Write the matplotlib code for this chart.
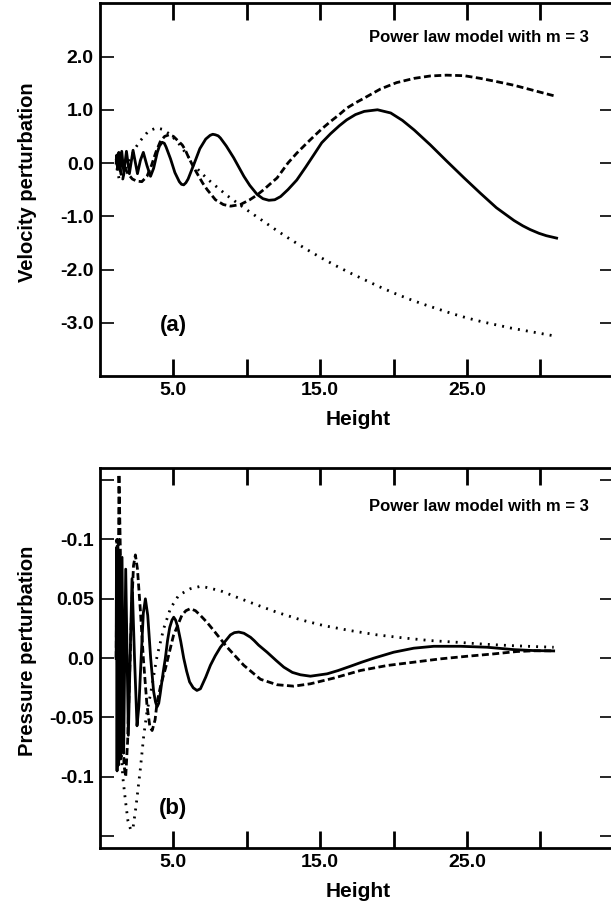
import numpy as np
import matplotlib.pyplot as plt

plt.rcParams['font.family'] = ['Liberation Sans', 'DejaVu Sans']
plt.rcParams['font.weight'] = 'bold'

# ---- panel (a): velocity perturbation ----
va_solid_x = [1.1, 1.14, 1.2, 1.28, 1.37, 1.48, 1.62, 1.8, 2.0, 2.25, 2.55, 2.75, 2.95, 3.2, 3.44,
              3.65, 3.9, 4.05, 4.23, 4.38, 4.5, 4.8, 5.1, 5.4, 5.55, 5.7, 5.85, 6.0, 6.4, 6.8, 7.2, 7.5,
              7.68, 7.86, 8.05, 8.2, 8.6, 9.1, 9.5, 9.8, 10.2, 10.7, 11.1, 11.5, 11.9, 12.3, 12.8, 13.4,
              14.0, 14.6, 15.1, 15.7, 16.3, 16.8, 17.4, 18.0, 18.9, 19.8, 20.6, 21.4, 22.5, 23.6, 24.8,
              25.9, 27.0, 28.2, 28.8, 29.3, 29.9, 30.4, 31.1]
va_solid_y = [0.0, 0.15, -0.12, 0.2, -0.15, 0.22, -0.18, 0.22, -0.2, 0.24, -0.2, 0.05, 0.2, -0.05, -0.25,
              -0.1, 0.2, 0.32, 0.39, 0.37, 0.3, 0.08, -0.18, -0.35, -0.40, -0.41, -0.37, -0.3, -0.02, 0.27, 0.45, 0.52,
              0.54, 0.53, 0.51, 0.47, 0.32, 0.1, -0.1, -0.25, -0.42, -0.59, -0.67, -0.70, -0.69, -0.63, -0.5, -0.32,
              -0.08, 0.17, 0.38, 0.55, 0.7, 0.81, 0.91, 0.97, 1.0, 0.94, 0.80, 0.62, 0.34, 0.04, -0.28,
              -0.565, -0.84, -1.08, -1.18, -1.25, -1.32, -1.365, -1.41]

va_dash_x = [1.1, 1.2, 1.3, 1.42, 1.55, 1.7, 1.9, 2.2, 2.5, 2.85, 3.2, 3.5, 3.8, 4.1, 4.4, 4.7,
             5.0, 5.3, 5.6, 5.8, 6.0, 6.3, 6.6, 7.0, 7.3, 7.86, 8.4, 8.9, 9.56, 10.2, 10.7, 11.15,
             11.6, 12.06, 12.3, 12.8, 13.4, 14.0, 14.56, 15.1, 15.7, 16.3, 16.8, 17.4, 18.0, 19.1,
             20.2, 21.4, 22.5, 23.6, 24.8, 25.9, 27.0, 28.2, 29.3, 30.4, 31.1]
va_dash_y = [0.08, -0.1, 0.1, -0.2, -0.3, -0.1, -0.2, -0.3, -0.34, -0.35, -0.25, -0.05, 0.2, 0.4, 0.5, 0.53,
             0.5, 0.42, 0.34, 0.25, 0.125, -0.04, -0.19, -0.38, -0.5, -0.69, -0.78, -0.81, -0.78, -0.69, -0.6, -0.5,
             -0.39, -0.28, -0.19, 0.0, 0.185, 0.35, 0.5, 0.64, 0.78, 0.91, 1.03, 1.13, 1.22, 1.39,
             1.51, 1.59, 1.635, 1.65, 1.64, 1.59, 1.53, 1.46, 1.38, 1.30, 1.25]

va_dot_x = [1.15, 1.3, 1.5, 1.7, 2.0, 2.4, 2.75, 3.3, 3.85, 4.3, 4.8, 5.3, 5.8, 6.3, 6.8, 7.4, 8.0,
            8.7, 9.4, 10.0, 11.0, 12.0, 13.0, 14.0, 15.0, 16.0, 17.0, 18.0, 19.0, 20.0, 21.0,
            22.0, 23.0, 24.0, 25.0, 26.0, 27.0, 28.0, 29.0, 30.0, 30.8]
va_dot_y = [-0.1, -0.3, -0.28, -0.12, 0.05, 0.28, 0.42, 0.6, 0.66, 0.63, 0.53, 0.39, 0.2, 0.0, -0.16, -0.32, -0.46,
            -0.62, -0.76, -0.88, -1.07, -1.26, -1.44, -1.61, -1.77, -1.92, -2.06, -2.19, -2.32, -2.44, -2.55,
            -2.65, -2.74, -2.83, -2.91, -2.98, -3.04, -3.1, -3.15, -3.2, -3.24]

# ---- panel (b): pressure perturbation ----
pb_solid_x = [1.1, 1.12, 1.16, 1.21, 1.27, 1.33, 1.41, 1.5, 1.61, 1.75, 1.93, 2.05, 2.18, 2.35, 2.52,
              2.65, 2.8, 2.95, 3.09, 3.25, 3.45, 3.65, 3.78, 3.89, 4.0, 4.1, 4.3, 4.45, 4.6, 4.75, 4.9,
              5.02, 5.15, 5.3, 5.5, 5.7, 5.9, 6.1, 6.35, 6.6, 6.84, 7.2, 7.52, 7.85, 8.2, 8.88, 9.15,
              9.45, 9.8, 10.25, 10.5, 10.8, 11.38, 12.0, 12.52, 13.1, 13.65, 14.33, 15.47, 16.2,
              17.06, 17.8, 18.65, 20.0, 21.37, 22.73, 24.55, 26.36, 28.18, 29.54, 30.9]
pb_solid_y = [0.0, 0.09, -0.095, 0.095, -0.09, 0.09, -0.085, 0.085, -0.08, 0.075, -0.065, 0.0, 0.067, 0.0, -0.057,
              -0.04, 0.0, 0.038, 0.05, 0.036, 0.0, -0.028, -0.037, -0.041, -0.038, -0.03, -0.012, 0.0, 0.015, 0.026, 0.032,
              0.0345, 0.032, 0.026, 0.014, 0.0, -0.011, -0.02, -0.025, -0.0272, -0.0258, -0.016, -0.006, 0.002, 0.0092, 0.0196, 0.0215,
              0.022, 0.021, 0.0176, 0.0148, 0.011, 0.005, -0.002, -0.0076, -0.012, -0.014, -0.0152, -0.0132, -0.0105,
              -0.0068, -0.0035, 0.0, 0.005, 0.0084, 0.010, 0.010, 0.0092, 0.0072, 0.0064, 0.0061]

pb_dash_x = [1.1, 1.15, 1.2, 1.29, 1.4, 1.52, 1.63, 1.75, 1.88, 2.0, 2.15, 2.28, 2.41, 2.55, 2.75,
             2.95, 3.2, 3.4, 3.55, 3.75, 3.89, 4.15, 4.45, 5.0, 5.57, 5.85, 6.15, 6.5, 6.84, 7.3, 7.75,
             8.66, 9.79, 10.93, 12.06, 13.2, 14.33, 15.92, 17.74, 19.55, 21.37, 23.18, 25.0, 26.82,
             28.4, 29.54, 30.9]
pb_dash_y = [0.0, 0.1, -0.05, 0.155, 0.08, -0.03, -0.09, -0.1, -0.07, -0.02, 0.04, 0.078, 0.087, 0.075, 0.04,
             0.0, -0.04, -0.058, -0.061, -0.052, -0.037, -0.022, -0.009, 0.019, 0.036, 0.040, 0.0417, 0.040, 0.036, 0.030, 0.0232,
             0.0092, -0.006, -0.0178, -0.0224, -0.0236, -0.0216, -0.0168, -0.0104, -0.0062, -0.0034, -0.0006, 0.0016, 0.0036,
             0.0056, 0.0062, 0.0062]

pb_dot_x = [1.15, 1.25, 1.4, 1.55, 1.73, 1.9, 2.1, 2.25, 2.45, 2.75, 2.98, 3.2, 3.43, 3.89, 4.34,
            4.8, 5.36, 6.15, 6.84, 7.18, 8.2, 9.34, 10.7, 12.06, 13.65, 15.24, 17.06, 18.88,
            20.7, 22.5, 24.32, 26.14, 27.95, 29.54, 30.9]
pb_dot_y = [0.02, -0.03, -0.07, -0.1, -0.12, -0.137, -0.145, -0.143, -0.125, -0.093, -0.065, -0.045, -0.031, 0.002, 0.025,
            0.042, 0.053, 0.0585, 0.0605, 0.0598, 0.0568, 0.0512, 0.0448, 0.0386, 0.0324, 0.0274, 0.0232, 0.0196,
            0.017, 0.0148, 0.0134, 0.0118, 0.0106, 0.0098, 0.0092]

xticks = [5, 10, 15, 20, 25, 30]
xtick_labels = ['5.0', '', '15.0', '', '25.0', '']
va_yticks = [2, 1, 0, -1, -2, -3]
va_ytick_labels = ['2.0', '1.0', '0.0', '-1.0', '-2.0', '-3.0']
pb_yticks = [0.15, 0.1, 0.05, 0.0, -0.05, -0.1, -0.15]
pb_ytick_labels = ['', '-0.1', '0.05', '0.0', '-0.05', '-0.1', '']

note = 'Power law model with m = 3'

fig = plt.figure(figsize=(6.11, 9.10), dpi=100)
ax1 = fig.add_axes([0.1637, 0.5868, 0.841, 0.4096])
ax2 = fig.add_axes([0.1637, 0.0681, 0.841, 0.4173])

lw = 2.0
dash = (0, (2.5, 1.25))
dots = (0, (0.7, 2.2))


def style(ax, ylim, yticks, ylabels, ylabel, tag, tag_y, note_y):
    ax.set_xlim(0, 35)
    ax.set_ylim(*ylim)
    ax.set_xticks(xticks)
    ax.set_xticklabels(xtick_labels, fontsize=14, fontweight='bold')
    ax.set_yticks(yticks)
    ax.set_yticklabels(ylabels, fontsize=14, fontweight='bold')
    ax.tick_params(axis='x', direction='in', top=True, length=12, width=2, pad=4)
    ax.tick_params(axis='y', direction='in', right=True, length=10, width=1.2, pad=4.5)
    for s in ax.spines.values():
        s.set_linewidth(2)
    ax.set_xlabel('Height', fontsize=15, fontweight='bold')
    ax.xaxis.set_label_coords(0.502, -0.09)
    ax.xaxis.label.set_va('top')
    ax.set_ylabel(ylabel, fontsize=14.5, fontweight='bold')
    ax.yaxis.set_label_coords(-0.123, 0.52)
    ax.text(5.0, tag_y, tag, ha='center', va='center', fontsize=16, fontweight='bold')
    ax.text(33.3, note_y, note, ha='right', va='center', fontsize=12, fontweight='bold')


ax1.plot(va_solid_x, va_solid_y, color='black', lw=lw)
ax1.plot(va_dash_x, va_dash_y, color='black', lw=lw, linestyle=dash)
ax1.plot(va_dot_x, va_dot_y, color='black', lw=lw, linestyle=dots)
style(ax1, (-4, 3), va_yticks, va_ytick_labels, 'Velocity perturbation', '(a)', -3.05, 2.35)

ax2.plot(pb_solid_x, pb_solid_y, color='black', lw=lw)
ax2.plot(pb_dash_x, pb_dash_y, color='black', lw=lw, linestyle=dash)
ax2.plot(pb_dot_x, pb_dot_y, color='black', lw=lw, linestyle=dots)
style(ax2, (-0.16, 0.16), pb_yticks, pb_ytick_labels, 'Pressure perturbation', '(b)', -0.127, 0.128)

fig.savefig('out.png', dpi=100)
